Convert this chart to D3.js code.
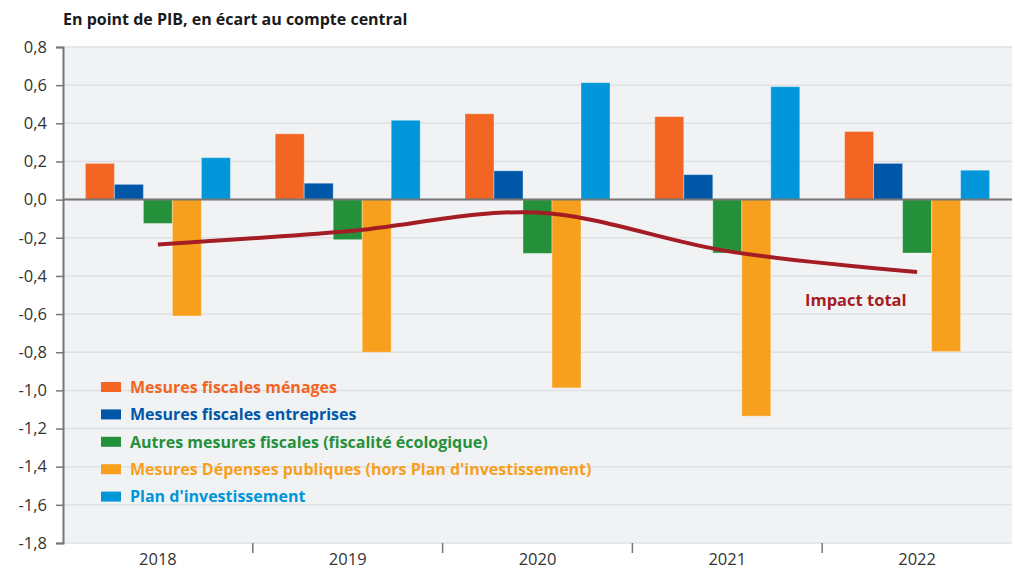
<!DOCTYPE html>
<html>
<head>
<meta charset="utf-8">
<script src="https://cdn.jsdelivr.net/npm/d3@7"></script>
<style>
  body { margin: 0; background: #fff; }
  text { font-family: "Open Sans", sans-serif; }
</style>
</head>
<body>
<div class="chart"></div>
<script>
var years = ["2018", "2019", "2020", "2021", "2022"];
var seriesNames = [
  "Mesures fiscales ménages",
  "Mesures fiscales entreprises",
  "Autres mesures fiscales (fiscalité écologique)",
  "Mesures Dépenses publiques (hors Plan d'investissement)",
  "Plan d'investissement"
];
var menages = [0.19, 0.345, 0.45, 0.435, 0.357];
var entreprises = [0.08, 0.086, 0.151, 0.131, 0.19];
var autres = [-0.125, -0.21, -0.282, -0.28, -0.28];
var depenses = [-0.61, -0.80, -0.987, -1.135, -0.797];
var investissement = [0.22, 0.416, 0.613, 0.592, 0.154];
var impactTotal = [-0.235, -0.166, -0.068, -0.27, -0.38];
var yTicks = [0.8, 0.6, 0.4, 0.2, 0, -0.2, -0.4, -0.6, -0.8, -1.0, -1.2, -1.4, -1.6, -1.8];

var colors = ["#f26522", "#0057a8", "#25903a", "#f7a01d", "#0096d9"];
var lineColor = "#a51d24";
var values = [menages, entreprises, autres, depenses, investissement];

var svgWidth = 1015;
var svgHeight = 570;
var margin = { top: 47, right: 3, bottom: 27, left: 63 };
var width = svgWidth - margin.left - margin.right;
var height = svgHeight - margin.top - margin.bottom;

var svg = d3.select(".chart")
  .append("svg")
  .attr("width", svgWidth)
  .attr("height", svgHeight);

svg.append("text")
  .attr("x", 63)
  .attr("y", 25)
  .attr("font-size", 16)
  .attr("font-weight", "bold")
  .attr("fill", "#1a1a1a")
  .text("En point de PIB, en écart au compte central");

var chartGroup = svg.append("g")
  .attr("transform", `translate(${margin.left}, ${margin.top})`);

// scales
var x0 = d3.scaleBand().domain(years).range([0, width]);
var pad = 22.4;
var x1 = d3.scaleBand().domain(d3.range(seriesNames.length))
  .range([pad, x0.bandwidth() - pad]);
var y = d3.scaleLinear().domain([-1.8, 0.8]).range([height, 0]);

chartGroup.append("rect")
  .attr("width", width)
  .attr("height", height)
  .attr("fill", "#f1f2f4");

// gridlines
chartGroup.append("g")
  .selectAll("line")
  .data(yTicks)
  .enter()
  .append("line")
  .attr("x1", 0)
  .attr("x2", width)
  .attr("y1", d => y(d))
  .attr("y2", d => y(d))
  .attr("stroke", "#dfe0e3")
  .attr("stroke-width", 1.5);

// bars
years.forEach(function(yr, i) {
  var g = chartGroup.append("g").attr("transform", `translate(${x0(yr)}, 0)`);
  values.forEach(function(arr, s) {
    var v = arr[i];
    g.append("rect")
      .attr("x", x1(s))
      .attr("width", x1.bandwidth())
      .attr("y", y(Math.max(0, v)))
      .attr("height", Math.abs(y(v) - y(0)))
      .attr("fill", colors[s])
      .attr("stroke", "rgba(255,255,255,0.35)")
      .attr("stroke-width", 1);
  });
});

// zero line
chartGroup.append("line")
  .attr("x1", 0).attr("x2", width)
  .attr("y1", y(0)).attr("y2", y(0))
  .attr("stroke", "#777")
  .attr("stroke-width", 2);

// left axis
var leftAxis = d3.axisLeft(y)
  .tickValues(yTicks)
  .tickSize(7)
  .tickFormat(d => d3.format(".1f")(d).replace(".", ",").replace("−", "-"));
var ya = chartGroup.append("g").call(leftAxis);
ya.select(".domain").attr("stroke", "#777").attr("stroke-width", 2);
ya.selectAll(".tick line").attr("stroke", "#777").attr("stroke-width", 1.5);
ya.selectAll(".tick text")
  .attr("font-family", "Open Sans, sans-serif")
  .attr("font-size", 16.5)
  .attr("fill", "#333")
  .attr("x", -16);

// bottom axis
var bottomAxis = d3.axisBottom(x0).tickSize(0).tickPadding(10);
var xa = chartGroup.append("g")
  .attr("transform", `translate(0, ${height})`)
  .call(bottomAxis);
xa.select(".domain").remove();
xa.selectAll(".tick text")
  .attr("font-family", "Open Sans, sans-serif")
  .attr("font-size", 16.5)
  .attr("fill", "#333");

xa.selectAll(".sep")
  .data(years.slice(1))
  .enter()
  .append("line")
  .attr("x1", d => x0(d))
  .attr("x2", d => x0(d))
  .attr("y1", 0)
  .attr("y2", 10)
  .attr("stroke", "#777")
  .attr("stroke-width", 1.5);

// impact total line
var line = d3.line()
  .x((d, i) => x0(years[i]) + x0.bandwidth() / 2)
  .y(d => y(d))
  .curve(d3.curveCatmullRom.alpha(0));

chartGroup.append("path")
  .datum(impactTotal)
  .attr("d", line)
  .attr("fill", "none")
  .attr("stroke", lineColor)
  .attr("stroke-width", 4);

chartGroup.append("text")
  .attr("x", 742)
  .attr("y", 259)
  .attr("font-size", 16.5)
  .attr("font-weight", "bold")
  .attr("fill", lineColor)
  .text("Impact total");

// legend
var legend = chartGroup.append("g").attr("transform", "translate(38, 335)");
seriesNames.forEach(function(name, s) {
  var row = legend.append("g").attr("transform", `translate(0, ${s * 27.4})`);
  row.append("rect")
    .attr("width", 20)
    .attr("height", 10)
    .attr("fill", colors[s]);
  row.append("text")
    .attr("x", 29)
    .attr("y", 5)
    .attr("dy", "0.36em")
    .attr("font-size", 16)
    .attr("font-weight", "bold")
    .attr("fill", colors[s])
    .text(name);
});
</script>
</body>
</html>
